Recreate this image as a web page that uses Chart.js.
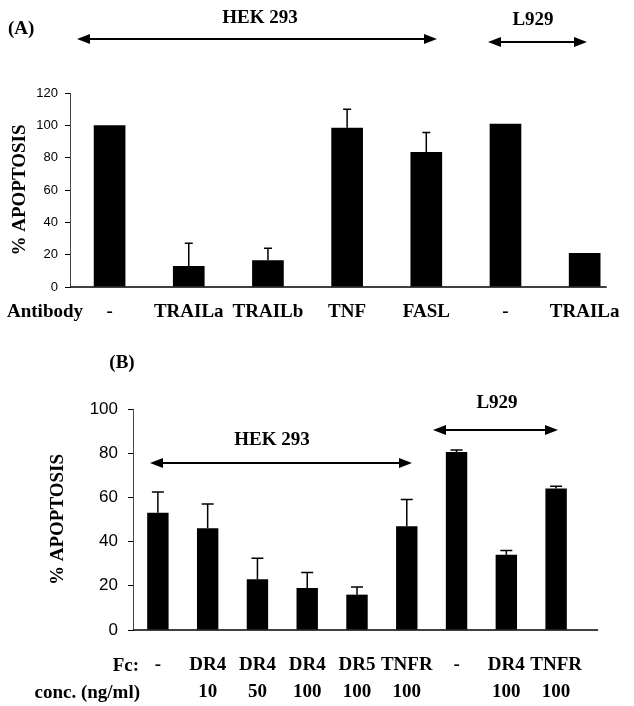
<!DOCTYPE html>
<html>
<head>
<meta charset="utf-8">
<script src="https://cdn.jsdelivr.net/npm/chart.js@4/dist/chart.umd.min.js"></script>
<style>
  body { margin: 0; background: #fff; }
  #wrap { position: relative; width: 634px; height: 706px; }
  canvas { position: absolute; left: 0; }
  #chartA { top: 0; }
  #chartB { top: 335px; }
</style>
</head>
<body>
<div id="wrap">
  <canvas id="chartA" width="634" height="335"></canvas>
  <canvas id="chartB" width="634" height="371"></canvas>
</div>
<script>
// panel A - antibody blocking
let antibodies = ["-", "TRAILa", "TRAILb", "TNF", "FASL", "-", "TRAILa"];
let apoptosisA = [100, 13, 16.5, 98.5, 83.5, 101, 21];
let errorA = [0, 14, 7.5, 11.5, 12, 0, 0];
let ticksA = [0, 20, 40, 60, 80, 100, 120];

// panel B - Fc fusion proteins
let fcNames = ["-", "DR4", "DR4", "DR4", "DR5", "TNFR", "-", "DR4", "TNFR"];
let fcConc = ["", "10", "50", "100", "100", "100", "", "100", "100"];
let apoptosisB = [53, 46, 23, 19, 16, 47, 80.5, 34, 64];
let errorB = [9.5, 11, 9.5, 7, 3.5, 12, 1, 2, 1];
let ticksB = [0, 20, 40, 60, 80, 100];

const serif = "'Liberation Serif', 'Times New Roman', serif";
const sans = "'Liberation Sans', Arial, sans-serif";

Chart.defaults.color = "#000";
Chart.defaults.animation = false;

function arrow(ctx, x1, x2, y) {
  ctx.save();
  ctx.strokeStyle = "#000";
  ctx.fillStyle = "#000";
  ctx.lineWidth = 2;
  ctx.beginPath();
  ctx.moveTo(x1 + 8, y);
  ctx.lineTo(x2 - 8, y);
  ctx.stroke();
  ctx.beginPath();
  ctx.moveTo(x1, y);
  ctx.lineTo(x1 + 13, y - 5);
  ctx.lineTo(x1 + 13, y + 5);
  ctx.closePath();
  ctx.fill();
  ctx.beginPath();
  ctx.moveTo(x2, y);
  ctx.lineTo(x2 - 13, y - 5);
  ctx.lineTo(x2 - 13, y + 5);
  ctx.closePath();
  ctx.fill();
  ctx.restore();
}

function label(ctx, text, x, y, align) {
  ctx.save();
  ctx.font = "bold 19px " + serif;
  ctx.fillStyle = "#000";
  ctx.textAlign = align || "center";
  ctx.textBaseline = "middle";
  ctx.fillText(text, x, y);
  ctx.restore();
}

// upward error bars on top of each bar, plus the zero line
function errorBars(errs, cap, tail) {
  return {
    id: "errorBars",
    afterDatasetsDraw(chart) {
      const ctx = chart.ctx;
      const y = chart.scales.y;
      const vals = chart.data.datasets[0].data;
      const bars = chart.getDatasetMeta(0).data;
      ctx.save();
      ctx.strokeStyle = "#000";
      ctx.lineWidth = 1.5;
      const zero = y.getPixelForValue(0);
      ctx.beginPath();
      ctx.moveTo(chart.chartArea.left, zero);
      ctx.lineTo(bars[bars.length - 1].x + tail, zero);
      ctx.stroke();
      bars.forEach((bar, i) => {
        if (!errs[i]) return;
        const top = y.getPixelForValue(vals[i] + errs[i]);
        const base = y.getPixelForValue(vals[i]);
        ctx.beginPath();
        ctx.moveTo(bar.x, base);
        ctx.lineTo(bar.x, top);
        ctx.moveTo(bar.x - cap, top);
        ctx.lineTo(bar.x + cap, top);
        ctx.stroke();
      });
      ctx.restore();
    }
  };
}

function yAxis(ticks, size, pad, width, titlePad) {
  return {
    min: ticks[0],
    max: ticks[ticks.length - 1],
    ticks: { stepSize: ticks[1] - ticks[0], padding: pad, font: { family: sans, size: size } },
    grid: { drawOnChartArea: false, drawTicks: true, tickLength: 5, color: "#000" },
    border: { display: true, color: "#444", width: 1, dash: [4, 2] },
    title: {
      display: true,
      text: "% APOPTOSIS",
      padding: { top: titlePad, bottom: 0 },
      font: { family: serif, size: 19, weight: "bold" }
    },
    afterFit(s) { s.width = width; }
  };
}

function xAxis(pad, height, lineHeight) {
  return {
    offset: true,
    grid: { display: false, drawTicks: false },
    border: { display: false },
    ticks: {
      padding: pad,
      autoSkip: false,
      maxRotation: 0,
      font: { family: serif, size: 19, weight: "bold", lineHeight: lineHeight }
    },
    afterFit(s) { s.height = height; }
  };
}

let chartA = new Chart(document.getElementById("chartA"), {
  type: "bar",
  data: {
    labels: antibodies,
    datasets: [{
      data: apoptosisA,
      backgroundColor: "#000",
      barPercentage: 0.4,
      categoryPercentage: 1
    }]
  },
  options: {
    responsive: false,
    devicePixelRatio: 1,
    layout: { padding: { top: 93, right: 7, left: 0, bottom: 0 } },
    plugins: { legend: { display: false }, tooltip: { enabled: false } },
    scales: {
      x: xAxis(14, 48, 1.2),
      y: yAxis(ticksA, 13, 7, 70, 9)
    }
  },
  plugins: [errorBars(errorA, 4, 22), {
    id: "notesA",
    afterDraw(chart) {
      const ctx = chart.ctx;
      label(ctx, "(A)", 8, 29, "left");
      label(ctx, "HEK 293", 260, 18);
      arrow(ctx, 77, 437, 39);
      label(ctx, "L929", 533, 20);
      arrow(ctx, 488, 587, 42);
      label(ctx, "Antibody", 7, chart.chartArea.bottom + 25, "left");
    }
  }]
});

let chartB = new Chart(document.getElementById("chartB"), {
  type: "bar",
  data: {
    labels: fcNames.map((n, i) => [n, fcConc[i]]),
    datasets: [{
      data: apoptosisB,
      backgroundColor: "#000",
      barPercentage: 0.43,
      categoryPercentage: 1
    }]
  },
  options: {
    responsive: false,
    devicePixelRatio: 1,
    layout: { padding: { top: 74, right: 53, left: 0, bottom: 0 } },
    plugins: { legend: { display: false }, tooltip: { enabled: false } },
    scales: {
      x: xAxis(22, 76, 1.42),
      y: yAxis(ticksB, 17, 10, 133, 47)
    }
  },
  plugins: [errorBars(errorB, 6, 42), {
    id: "notesB",
    afterDraw(chart) {
      const ctx = chart.ctx;
      const b = chart.chartArea.bottom;
      label(ctx, "(B)", 122, 28);
      label(ctx, "HEK 293", 272, 105);
      arrow(ctx, 150, 412, 128);
      label(ctx, "L929", 497, 68);
      arrow(ctx, 433, 558, 95);
      label(ctx, "Fc:", 139, b + 36, "right");
      label(ctx, "conc. (ng/ml)", 140, b + 63, "right");
    }
  }]
});
</script>
</body>
</html>
